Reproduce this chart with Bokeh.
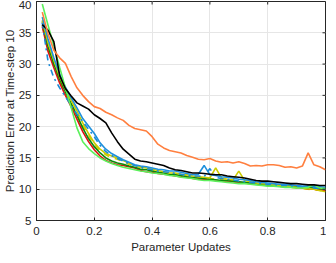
from bokeh.plotting import figure
from bokeh.models import FixedTicker, Range1d
from bokeh.embed import file_html
from bokeh.resources import INLINE

updates = [0.02, 0.04, 0.06, 0.08, 0.10, 0.12, 0.14, 0.16, 0.18, 0.20,
           0.22, 0.24, 0.26, 0.28, 0.30, 0.32, 0.34, 0.36, 0.38, 0.40,
           0.42, 0.44, 0.46, 0.48, 0.50, 0.52, 0.54, 0.56, 0.58, 0.60,
           0.62, 0.64, 0.66, 0.68, 0.70, 0.72, 0.74, 0.76, 0.78, 0.80,
           0.82, 0.84, 0.86, 0.88, 0.90, 0.92, 0.94, 0.96, 0.98, 1.00]

err_black = [36.3, 35.4, 33.6, 28.2, 26.1, 24.9, 23.8, 23.3, 22.8, 21.9,
             21.3, 20.6, 19.0, 17.6, 16.4, 15.6, 14.8, 14.5, 14.4, 14.2,
             14.0, 13.8, 13.4, 13.1, 13.0, 12.8, 12.6, 12.6, 12.5, 12.4,
             12.3, 12.3, 12.1, 12.0, 11.9, 11.8, 11.6, 11.4, 11.3, 11.3,
             11.2, 11.1, 11.0, 10.9, 10.9, 10.8, 10.7, 10.7, 10.6, 10.6]

err_orange = [38.3, 34.8, 32.2, 31.0, 30.1, 28.0, 26.2, 25.0, 24.0, 23.2,
              22.9, 22.3, 21.9, 21.4, 21.0, 20.2, 19.7, 19.5, 19.3, 18.4,
              17.2, 16.6, 16.2, 16.0, 15.8, 15.4, 15.1, 14.8, 14.7, 14.9,
              14.5, 14.3, 14.4, 14.2, 14.4, 14.1, 13.7, 13.8, 13.7, 13.9,
              13.9, 13.8, 13.5, 13.6, 13.4, 13.7, 15.8, 13.9, 13.6, 13.1]

err_lightgreen = [39.6, 36.2, 32.9, 29.5, 26.2, 23.0, 19.8, 17.6, 16.5, 15.7,
                  15.0, 14.5, 14.1, 13.8, 13.5, 13.3, 13.1, 12.9, 12.8, 12.6,
                  12.5, 12.4, 12.2, 12.1, 11.9, 11.8, 11.7, 11.5, 11.4, 11.4,
                  11.3, 11.2, 11.1, 11.0, 10.9, 10.9, 10.8, 10.7, 10.6, 10.5,
                  10.5, 10.4, 10.3, 10.3, 10.2, 10.2, 10.3, 10.7, 10.2, 10.1]

err_blue = [37.5, 34.0, 31.0, 28.4, 26.3, 24.6, 23.0, 21.3, 20.1, 18.9,
            17.4, 16.4, 15.7, 15.2, 14.7, 14.3, 13.9, 13.7, 13.6, 13.4,
            13.2, 13.1, 12.9, 12.9, 12.7, 12.5, 12.3, 12.4, 13.8, 12.3,
            12.2, 12.0, 11.9, 11.8, 11.6, 11.5, 11.4, 11.2, 11.1, 11.0,
            10.9, 10.8, 10.8, 10.7, 10.6, 10.5, 10.5, 10.4, 10.4, 10.3]

err_blue_dash = [36.6, 30.4, 27.8, 26.2, 24.8, 23.4, 22.0, 20.8, 19.6, 18.4,
                 17.0, 16.0, 15.4, 14.9, 14.5, 14.1, 13.8, 13.5, 13.3, 13.1,
                 12.9, 12.8, 12.7, 12.5, 12.4, 12.2, 12.1, 12.1, 12.0, 13.3,
                 11.9, 11.7, 11.6, 11.5, 11.3, 11.2, 11.1, 11.0, 10.9, 10.8,
                 10.7, 10.6, 10.6, 10.5, 10.4, 10.3, 10.3, 10.2, 10.1, 10.0]

err_red = [36.0, 32.0, 29.4, 27.0, 25.0, 23.2, 21.2, 19.2, 17.6, 16.3,
           15.3, 14.6, 14.2, 13.9, 13.8, 13.6, 13.4, 13.0, 12.8, 12.7,
           12.5, 12.4, 12.3, 12.1, 12.0, 11.9, 11.7, 11.6, 11.6, 11.5,
           11.4, 11.3, 11.3, 11.2, 11.1, 11.0, 10.9, 10.8, 10.7, 10.6,
           10.6, 10.5, 10.4, 10.4, 10.3, 10.2, 10.1, 10.0, 9.9, 9.8]

err_darkgreen = [36.8, 32.8, 30.0, 27.6, 25.6, 23.7, 21.8, 19.8, 18.1, 16.8,
                 15.8, 15.0, 14.5, 14.2, 14.0, 13.7, 13.5, 13.2, 13.1, 12.9,
                 12.7, 12.6, 12.4, 12.3, 12.2, 12.0, 11.9, 11.8, 11.7, 11.6,
                 11.5, 11.4, 11.4, 11.3, 11.2, 11.1, 11.0, 10.9, 10.8, 10.7,
                 10.7, 10.6, 10.5, 10.5, 10.4, 10.3, 10.3, 10.2, 10.1, 10.0]

err_yellow = [37.0, 33.4, 30.6, 28.0, 26.0, 24.2, 22.5, 20.6, 18.9, 17.4,
              16.4, 15.7, 15.3, 15.0, 14.6, 14.2, 13.8, 13.6, 13.4, 13.2,
              13.0, 12.8, 12.6, 12.6, 12.4, 12.3, 12.1, 12.0, 11.9, 11.8,
              13.4, 11.8, 11.6, 11.5, 12.9, 11.4, 11.2, 11.0, 10.9, 10.8,
              10.7, 10.6, 10.5, 10.4, 10.3, 10.2, 10.1, 10.0, 9.8, 9.6]

err_yellow_dash = [36.2, 32.6, 29.8, 27.3, 25.3, 23.6, 22.0, 20.2, 18.6, 17.2,
                   16.2, 15.5, 15.0, 14.8, 14.4, 14.0, 13.7, 13.5, 13.2, 13.0,
                   12.8, 12.7, 12.5, 12.4, 12.3, 12.1, 12.0, 11.9, 11.8, 11.7,
                   11.6, 11.5, 11.4, 11.3, 11.2, 11.1, 11.0, 10.9, 10.8, 10.7,
                   10.6, 10.5, 10.4, 10.3, 10.2, 10.1, 10.0, 9.9, 9.8, 9.7]

x_ticks = [0, 0.2, 0.4, 0.6, 0.8, 1]
x_tick_labels = ["0", "0.2", "0.4", "0.6", "0.8", "1"]
y_ticks = [5, 10, 15, 20, 25, 30, 35, 40]

AX = "#262626"
FONT = "Liberation Sans"
FS = "11.5px"

FRAME_W, FRAME_H = 289, 219
xr = Range1d(0, 1)
yr = Range1d(5, 40)
p = figure(frame_width=FRAME_W, frame_height=FRAME_H, x_range=xr, y_range=yr,
           output_backend="svg", toolbar_location=None,
           min_border_left=30, min_border_right=1, min_border_top=1,
           min_border_bottom=33)
p.background_fill_color = "white"
p.outline_line_color = AX
p.outline_line_width = 1

series = [
    (err_yellow_dash, "#D4C800", "dashed"),
    (err_red, "#E01010", "solid"),
    (err_darkgreen, "#0A8A0A", "solid"),
    (err_yellow, "#CCCC00", "solid"),
    (err_blue_dash, "#1A8AD6", "dashdot"),
    (err_blue, "#1E90DC", "solid"),
    (err_lightgreen, "#5CF05C", "solid"),
    (err_black, "#000000", "solid"),
    (err_orange, "#FF7F3F", "solid"),
]
for ys, col, dash in series:
    p.line(updates, ys, line_color=col, line_width=1.6, line_dash=dash)

for ax in (p.xaxis[0], p.yaxis[0]):
    ax.axis_line_color = AX
    ax.major_tick_line_color = AX
    ax.major_tick_in = 3
    ax.major_tick_out = 0
    ax.minor_tick_line_color = None
    ax.major_label_text_font = FONT
    ax.major_label_text_font_size = FS
    ax.major_label_text_color = AX
    ax.axis_label_text_font = FONT
    ax.axis_label_text_font_size = FS
    ax.axis_label_text_font_style = "normal"
    ax.axis_label_text_color = AX

p.xaxis[0].ticker = FixedTicker(ticks=x_ticks)
p.xaxis[0].major_label_overrides = {t: l for t, l in zip(x_ticks, x_tick_labels)}
p.xaxis[0].axis_label = "Parameter Updates"
p.xaxis[0].major_label_standoff = 6
p.xaxis[0].axis_label_standoff = 3
p.yaxis[0].ticker = FixedTicker(ticks=y_ticks)
p.yaxis[0].axis_label = "Prediction Error at Time-step 10"
p.yaxis[0].major_label_standoff = 5
p.yaxis[0].axis_label_standoff = 0

# inward tick marks on the top and right edges of the box (MATLAB style)
tick_dx = 3 * (xr.end - xr.start) / FRAME_W
tick_dy = 3 * (yr.end - yr.start) / FRAME_H
p.segment(x0=x_ticks, y0=[yr.end] * len(x_ticks), x1=x_ticks,
          y1=[yr.end - tick_dy] * len(x_ticks), line_color=AX, line_width=1)
p.segment(x0=[xr.end] * len(y_ticks), y0=y_ticks, x1=[xr.end - tick_dx] * len(y_ticks),
          y1=y_ticks, line_color=AX, line_width=1)

p.xgrid.ticker = FixedTicker(ticks=x_ticks)
p.ygrid.ticker = FixedTicker(ticks=y_ticks)
p.grid.grid_line_color = "#e6e6e6"
p.grid.grid_line_width = 1

open("out.html", "w").write(file_html(p, INLINE))
